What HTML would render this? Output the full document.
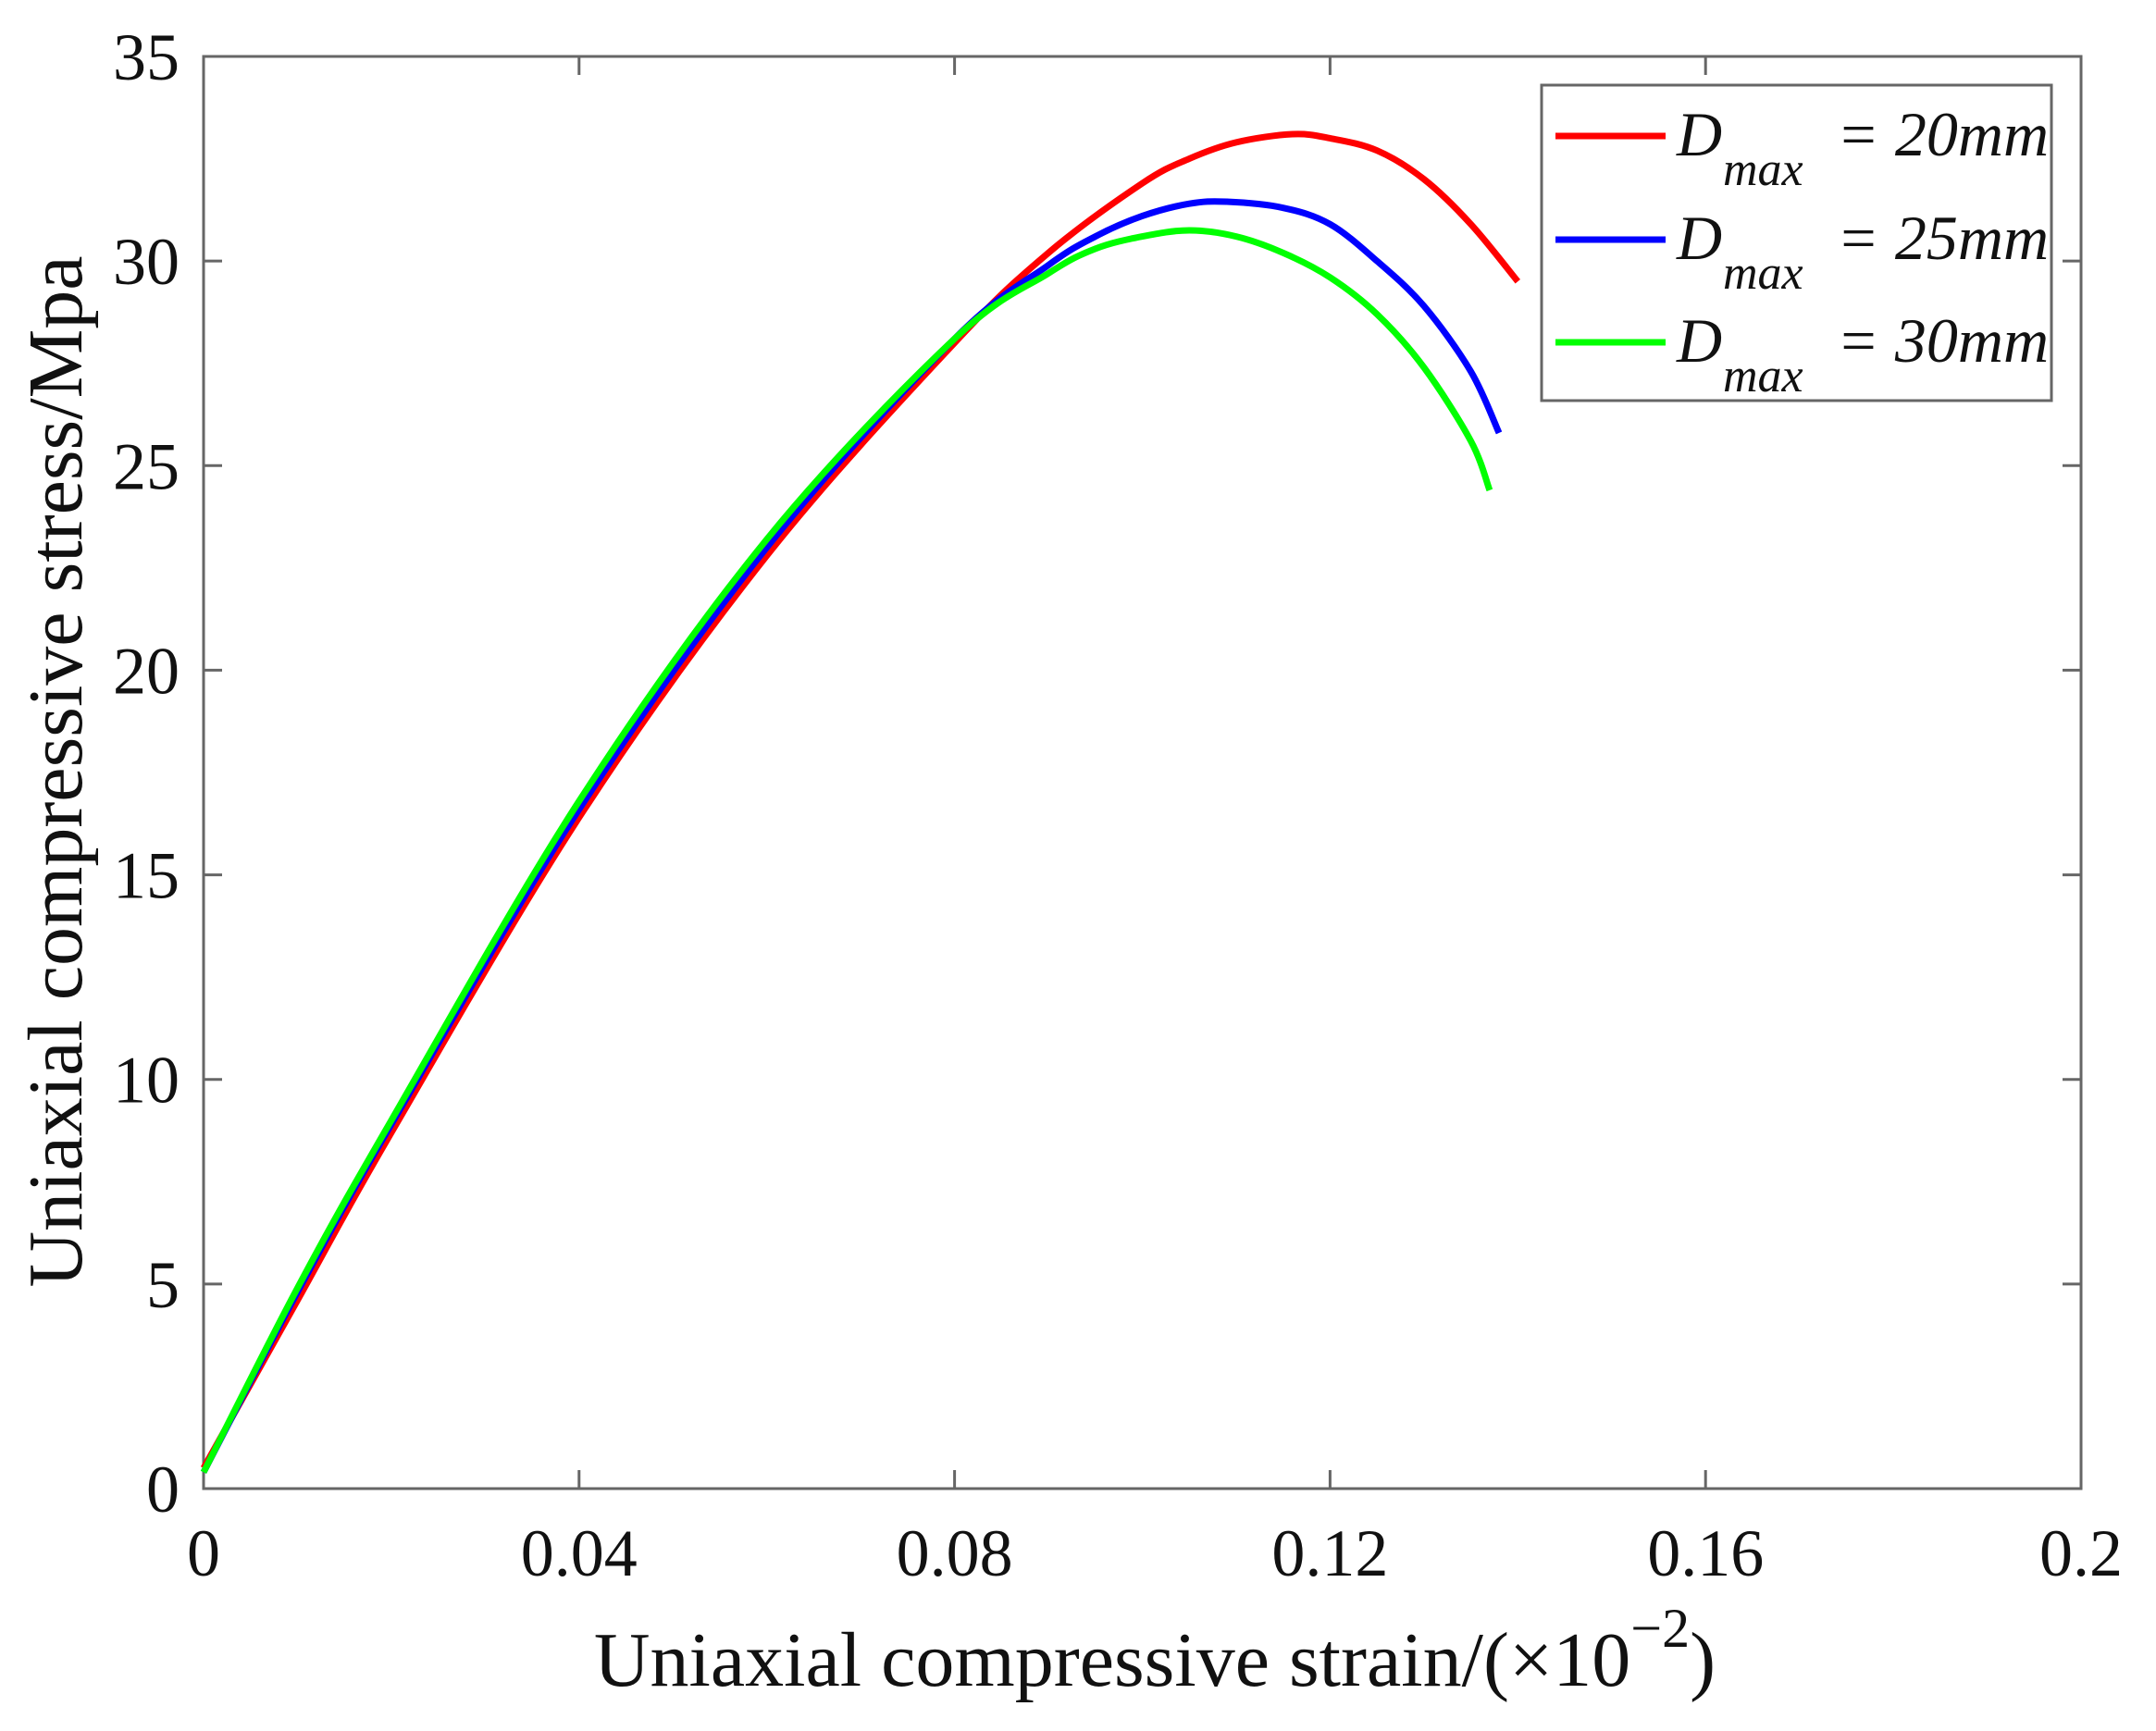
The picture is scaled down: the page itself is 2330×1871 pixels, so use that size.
<!DOCTYPE html>
<html><head><meta charset="utf-8"><style>
html,body{margin:0;padding:0;background:#fff;}
svg{display:block;}
text{font-family:"Liberation Serif","DejaVu Serif",serif;fill:#111;}
</style></head><body>
<svg id="chart" width="2330" height="1871" viewBox="0 0 2330 1871" xmlns="http://www.w3.org/2000/svg">
<rect width="2330" height="1871" fill="#fff"/>
<g id="axes"></g>
<g id="series"></g>
<g id="legend">
<rect x="1666" y="92" width="551" height="341" fill="#fff" stroke="#666" stroke-width="3"/>
<g>
<line x1="1681" y1="147" x2="1800" y2="147" stroke="#ff0000" stroke-width="7"/>
<text x="1812" y="168" font-size="68" font-style="italic">D</text>
<text x="1862" y="200" font-size="52" font-style="italic">max</text>
<text x="1985" y="168" font-size="68" font-style="italic">= 20mm</text>
</g>
<g>
<line x1="1681" y1="259" x2="1800" y2="259" stroke="#0000ff" stroke-width="7"/>
<text x="1812" y="280" font-size="68" font-style="italic">D</text>
<text x="1862" y="312" font-size="52" font-style="italic">max</text>
<text x="1985" y="280" font-size="68" font-style="italic">= 25mm</text>
</g>
<g>
<line x1="1681" y1="370" x2="1800" y2="370" stroke="#00ff00" stroke-width="7"/>
<text x="1812" y="391" font-size="68" font-style="italic">D</text>
<text x="1862" y="423" font-size="52" font-style="italic">max</text>
<text x="1985" y="391" font-size="68" font-style="italic">= 30mm</text>
</g>
</g>
<text x="1248" y="1822" font-size="84" text-anchor="middle">Uniaxial compressive strain/(×10<tspan dy="-42" font-size="60">−2</tspan><tspan dy="42">)</tspan></text>
<text transform="translate(88,834) rotate(-90)" font-size="84" text-anchor="middle">Uniaxial compressive stress/Mpa</text>
</svg>
<script>
const xTicks = [0, 0.04, 0.08, 0.12, 0.16, 0.2];
const xTickLabels = ["0", "0.04", "0.08", "0.12", "0.16", "0.2"];
const yTicks = [0, 5, 10, 15, 20, 25, 30, 35];
const yTickLabels = ["0", "5", "10", "15", "20", "25", "30", "35"];
const strainRed = [0,0.01,0.02,0.04,0.06,0.08,0.09,0.10,0.105,0.11,0.116,0.12,0.125,0.13,0.135,0.14];
const stressRed = [0.5,4.6,8.7,16.4,22.8,28.0,30.2,31.9,32.5,32.9,33.1,33.0,32.7,32.0,30.9,29.5];
const strainBlue = [0,0.01,0.02,0.04,0.06,0.08,0.09,0.095,0.10,0.105,0.109,0.115,0.12,0.125,0.13,0.135,0.138];
const stressBlue = [0.4,4.8,8.9,16.6,23.0,28.1,29.9,30.6,31.1,31.4,31.45,31.3,30.9,30.0,28.9,27.3,25.8];
const strainGreen = [0,0.01,0.02,0.04,0.06,0.08,0.09,0.095,0.10,0.105,0.11,0.115,0.12,0.125,0.13,0.135,0.137];
const stressGreen = [0.4,4.9,9.0,16.8,23.2,28.1,29.7,30.3,30.6,30.75,30.6,30.2,29.6,28.7,27.4,25.6,24.4];

const L=220,R=2249,T=61,B=1609;
const xs=v=>L+(v-0)/(0.2-0)*(R-L);
const ys=v=>B-(v-0)/(35-0)*(B-T);
const NS="http://www.w3.org/2000/svg";
const axes=document.getElementById('axes');
function mk(tag,attrs,parent){const e=document.createElementNS(NS,tag);for(const k in attrs)e.setAttribute(k,attrs[k]);parent.appendChild(e);return e;}
const frame=mk('rect',{x:L,y:T,width:R-L,height:B-T,fill:'none',stroke:'#666','stroke-width':3},axes);


xTicks.forEach((t,i)=>{
  const x=xs(t);
  const g=mk('g',{},axes);
  
  
  mk('line',{x1:x,y1:B,x2:x,y2:B-20,stroke:'#666','stroke-width':3},g);
  mk('line',{x1:x,y1:T,x2:x,y2:T+20,stroke:'#666','stroke-width':3},g);
  const tx=mk('text',{x:x,y:1703,'font-size':72,'text-anchor':'middle'},g);
  tx.textContent=xTickLabels[i];
});
yTicks.forEach((t,i)=>{
  const y=ys(t);
  const g=mk('g',{},axes);
  
  
  mk('line',{x1:L,y1:y,x2:L+20,y2:y,stroke:'#666','stroke-width':3},g);
  mk('line',{x1:R,y1:y,x2:R-20,y2:y,stroke:'#666','stroke-width':3},g);
  const tx=mk('text',{x:194,y:y+25,'font-size':72,'text-anchor':'end'},g);
  tx.textContent=yTickLabels[i];
});
function pathFrom(xa,ya){
  const p=xa.map((v,i)=>[xs(v),ys(ya[i])]);
  let d='M'+p[0][0]+','+p[0][1];
  for(let i=0;i<p.length-1;i++){
    const p0=p[i-1]||p[i],p1=p[i],p2=p[i+1],p3=p[i+2]||p2;
    const c1=[p1[0]+(p2[0]-p0[0])/6,p1[1]+(p2[1]-p0[1])/6];
    const c2=[p2[0]-(p3[0]-p1[0])/6,p2[1]-(p3[1]-p1[1])/6];
    d+=' C'+c1+' '+c2+' '+p2;
  }
  return d;
}
const series=document.getElementById('series');
const defs=[[strainRed,stressRed,'#ff0000','curve-dmax-20mm'],[strainBlue,stressBlue,'#0000ff','curve-dmax-25mm'],[strainGreen,stressGreen,'#00ff00','curve-dmax-30mm']];
defs.forEach(s=>{
  const el=mk('path',{d:pathFrom(s[0],s[1]),fill:'none',stroke:s[2],'stroke-width':7,'stroke-linejoin':'round'},series);
  
  
});
</script>
</body></html>
